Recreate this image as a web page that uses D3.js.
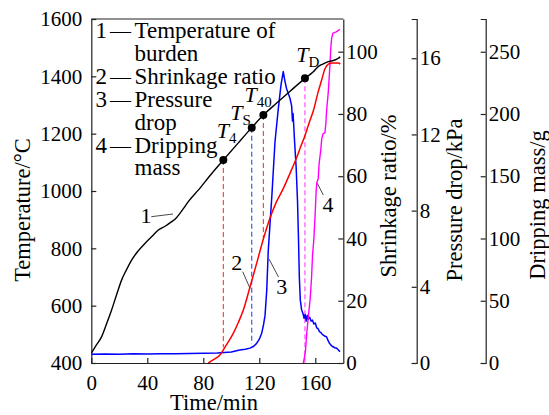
<!DOCTYPE html>
<html>
<head>
<meta charset="utf-8">
<script src="https://cdn.jsdelivr.net/npm/d3@7"></script>
<style>
  body { margin: 0; background: #fff; }
  svg, svg text { font-family: "Liberation Serif", "DejaVu Serif", serif; }
</style>
</head>
<body>
<div id="chart"></div>
<script>
// ---- data (time in min) ----
// 1 - temperature of burden (deg C)
const tempTime = [0, 3, 7.4, 11, 14.5, 18, 21.7, 25, 28.8, 33, 38.3, 43, 47.9, 53, 57.4, 60.5, 63.3, 66, 69.3, 76.4, 85, 94.3, 105, 114.6, 122.9, 132, 142, 152.6, 158.6, 162.1, 165, 169.3, 174, 176.4, 177.8];
const tempVal  = [434, 458, 492, 538, 585, 637, 690, 724, 759, 788, 817, 840, 864, 878, 893, 905, 922, 940, 963, 1003, 1055, 1108, 1168, 1221, 1265, 1305, 1348, 1393, 1416, 1434, 1442, 1451, 1457, 1463, 1468];

// 2 - shrinkage ratio (%)
const shrinkTime = [83.6, 87, 91.9, 96, 101.4, 105, 108.6, 113.4, 118.1, 123, 127.6, 132, 137.1, 142, 146.7, 150, 152.6, 155.5, 158.6, 162, 164.6, 166.9, 169.3, 172, 176.4, 177.8];
const shrinkVal  = [0, 1, 2.6, 5.5, 9.5, 13, 17, 24.5, 32, 40, 46.5, 51.5, 56, 61, 66, 70, 73, 77, 81, 87, 91, 94.5, 96, 96.4, 96.4, 96];

// 3 - pressure drop (kPa)
const pressTime = [0, 10, 20, 30, 40, 50, 60, 70, 80, 90, 100, 106, 110, 113.4, 116, 118.1, 120, 121.7, 123, 124.1, 125.3, 126.4, 129, 131.2, 133.5, 135.5, 137.1, 138.3, 139.5, 141.9, 143.1, 143.7, 144.1, 144.5, 145.3, 146.3, 147.3, 148, 148.6, 149.3, 150.2, 151.2, 152, 152.8, 153.5, 154.3, 155, 156, 157, 158, 159, 160, 161, 162, 163, 164, 165, 166, 167, 168, 169, 170, 171, 172, 173, 174, 175.3, 176.5, 177.6];
const pressVal  = [0.46, 0.47, 0.46, 0.48, 0.47, 0.48, 0.49, 0.5, 0.51, 0.52, 0.58, 0.68, 0.72, 0.78, 0.88, 1.03, 1.25, 1.56, 2.0, 2.5, 3.8, 5.9, 8.8, 11.6, 13.3, 14.6, 15.3, 14.8, 14.4, 13.9, 13.5, 12.7, 13.1, 12.6, 11.5, 10.3, 8.5, 6.5, 4.5, 3.3, 2.8, 2.6, 2.35, 2.55, 2.2, 2.5, 2.3, 2.4, 2.2, 2.25, 2.05, 2.1, 1.85, 1.8, 1.65, 1.6, 1.5, 1.45, 1.4, 1.38, 1.2, 1.05, 0.95, 0.88, 0.84, 0.8, 0.77, 0.68, 0.59];

// 4 - dripping mass (g)
const dripTime = [151.4, 152.2, 153, 153.9, 155, 156.3, 157.3, 158, 159, 160, 160.6, 161.1, 162.1, 162.7, 163.9, 164.6, 165.5, 166.9, 167.5, 168.1, 169.3, 170.5, 171, 171.7, 172.6, 175, 177.6];
const dripVal  = [0, 4, 10, 24, 37, 51, 68, 86, 100, 122, 138, 145, 148, 160, 171, 180, 184, 185, 192, 203, 218, 240, 252, 261, 265, 266, 268];

// characteristic temperatures on curve 1
const markerName = ["4", "S", "40", "D"];
const markerTime = [94.3, 114.6, 122.9, 152.6];
const markerTemp = [1108, 1221, 1265, 1393];
// where each dashed drop line stops
const markerEndAxis = ["shrink", "press", "shrink", "drip"];
const markerEndVal  = [5, 1, 40, 0];

// ticks
const timeTicks   = [0, 40, 80, 120, 160];
const tempTicks   = [400, 600, 800, 1000, 1200, 1400, 1600];
const shrinkTicks = [0, 20, 40, 60, 80, 100];
const pressTicks  = [0, 4, 8, 12, 16];
const dripTicks   = [0, 50, 100, 150, 200, 250];

const legendItems = [
  ["1", ["Temperature of", "burden"]],
  ["2", ["Shrinkage ratio"]],
  ["3", ["Pressure", "drop"]],
  ["4", ["Dripping", "mass"]]
];

// ---- layout ----
const width = 549, height = 415;
const margin = {top: 19, bottom: 52, left: 91.3, right: 205.7};
const plotR = width - margin.right, plotB = height - margin.bottom;
const pressX = 416.7, dripX = 485.7;
const FONT = "Liberation Serif, DejaVu Serif, serif";

const svg = d3.select("#chart").append("svg")
    .attr("width", width)
    .attr("height", height)
    .attr("viewBox", [0, 0, width, height]);

const x = d3.scaleLinear().domain([0, 180]).range([margin.left, plotR]);
const yTemp = d3.scaleLinear().domain([400, 1600]).range([plotB, margin.top]);
// right hand scales: the tick at 100 / 16 / 250 sits below the frame top
const yShrink = d3.scaleLinear().domain([0, 110.5]).range([plotB, margin.top]);
const yPress  = d3.scaleLinear().domain([0, 18.06]).range([plotB, margin.top]);
const yDrip   = d3.scaleLinear().domain([0, 276.3]).range([plotB, margin.top]);
const endScale = {shrink: yShrink, press: yPress, drip: yDrip};
const fmt = d3.format("d");

// axes
function styleAxis(g) {
  g.attr("font-family", FONT).attr("font-size", 21);
  g.selectAll("path, line").attr("stroke", "#222").attr("stroke-width", 1.2);
  g.selectAll("text").attr("fill", "#000");
}

svg.append("g")
    .attr("transform", `translate(${margin.left},0)`)
    .call(d3.axisLeft(yTemp).tickValues(tempTicks).tickFormat(fmt).tickSizeInner(-5).tickSizeOuter(0).tickPadding(9))
    .call(styleAxis);

svg.append("g")
    .attr("transform", `translate(0,${plotB})`)
    .call(d3.axisBottom(x).tickValues(timeTicks).tickFormat(fmt).tickSizeInner(-5).tickSizeOuter(0).tickPadding(12))
    .call(styleAxis);

svg.append("g")
    .attr("transform", `translate(${plotR},0)`)
    .call(d3.axisRight(yShrink).tickValues(shrinkTicks).tickFormat(fmt).tickSizeInner(-5).tickSizeOuter(0).tickPadding(3))
    .call(styleAxis);

svg.append("g")
    .attr("transform", `translate(${pressX},0)`)
    .call(d3.axisRight(yPress).tickValues(pressTicks).tickFormat(fmt).tickSizeInner(-5).tickSizeOuter(-5).tickPadding(3))
    .call(styleAxis);

svg.append("g")
    .attr("transform", `translate(${dripX},0)`)
    .call(d3.axisRight(yDrip).tickValues(dripTicks).tickFormat(fmt).tickSizeInner(-5).tickSizeOuter(-5).tickPadding(3))
    .call(styleAxis);

// top border of the frame
svg.append("line")
    .attr("x1", margin.left).attr("x2", plotR)
    .attr("y1", margin.top).attr("y2", margin.top)
    .attr("stroke", "#222").attr("stroke-width", 1.2);

// axis titles
const titles = [
  {text: "Time/min", x: 214, y: 410, rot: 0},
  {text: "Temperature/°C", x: 30, y: 210, rot: -90},
  {text: "Shrinkage ratio/%", x: 396, y: 196, rot: -90},
  {text: "Pressure drop/kPa", x: 462, y: 200, rot: -90},
  {text: "Dripping mass/g", x: 545, y: 205, rot: -90}
];
svg.append("g")
    .attr("font-family", FONT).attr("font-size", 22.5)
  .selectAll("text")
  .data(titles)
  .join("text")
    .attr("text-anchor", "middle")
    .attr("transform", d => `translate(${d.x},${d.y}) rotate(${d.rot})`)
    .text(d => d.text);

// curves
svg.append("clipPath").attr("id", "plot-clip")
  .append("rect")
    .attr("x", margin.left).attr("y", margin.top)
    .attr("width", plotR - margin.left).attr("height", plotB - margin.top);

const plot = svg.append("g").attr("clip-path", "url(#plot-clip)");

function drawSeries(times, vals, yScale, color, w, curve) {
  const pts = times.map((t, i) => [t, vals[i]]);
  plot.append("path")
      .datum(pts)
      .attr("fill", "none")
      .attr("stroke", color)
      .attr("stroke-width", w)
      .attr("stroke-linejoin", "round")
      .attr("d", d3.line().x(d => x(d[0])).y(d => yScale(d[1])).curve(curve));
}

// dashed drop lines first, below the curves
const dashColor = ["#ff3333", "#3344ff", "#ff3333", "#ff44ff"];
plot.append("g")
  .selectAll("line")
  .data(markerTime)
  .join("line")
    .attr("x1", d => x(d)).attr("x2", d => x(d))
    .attr("y1", (d, i) => yTemp(markerTemp[i]))
    .attr("y2", (d, i) => endScale[markerEndAxis[i]](markerEndVal[i]))
    .attr("stroke", (d, i) => dashColor[i])
    .attr("stroke-width", 1.1)
    .attr("stroke-dasharray", "5,3");

drawSeries(pressTime, pressVal, yPress, "#0000ff", 1.5, d3.curveLinear);
drawSeries(dripTime, dripVal, yDrip, "#ff00ff", 1.4, d3.curveLinear);
drawSeries(shrinkTime, shrinkVal, yShrink, "#ff0000", 1.5, d3.curveMonotoneX);
drawSeries(tempTime, tempVal, yTemp, "#000000", 1.4, d3.curveMonotoneX);

// marker dots
svg.append("g")
  .selectAll("circle")
  .data(markerTime)
  .join("circle")
    .attr("cx", d => x(d))
    .attr("cy", (d, i) => yTemp(markerTemp[i]))
    .attr("r", 4)
    .attr("fill", "#000");

// marker labels: italic T with subscript, offset from the dot
const labelDx = [-6.6, -21.5, -18.8, -8.8];
const labelDy = [-22, -7.3, -12.7, -16.6];
const mLabels = svg.append("g").attr("font-family", FONT)
  .selectAll("text")
  .data(markerTime)
  .join("text")
    .attr("x", (d, i) => x(d) + labelDx[i])
    .attr("y", (d, i) => yTemp(markerTemp[i]) + labelDy[i]);
mLabels.append("tspan")
    .attr("font-size", 22).attr("font-style", "italic")
    .text("T");
mLabels.append("tspan")
    .attr("font-size", 15).attr("dy", 5)
    .text((d, i) => markerName[i]);

// curve number labels with leader lines
const curveLabels = [
  {n: "1", lx: 146, ly: 223, x1: 151.3, y1: 216.7, x2: 173, y2: 214},
  {n: "2", lx: 236.7, ly: 270, x1: 242.7, y1: 271.7, x2: 250, y2: 288.3},
  {n: "3", lx: 281.7, ly: 294, x1: 269, y1: 259, x2: 278.5, y2: 277},
  {n: "4", lx: 328, ly: 211.5, x1: 317.3, y1: 183.3, x2: 323.3, y2: 195}
];
const cl = svg.append("g").attr("font-family", FONT).attr("font-size", 22);
cl.selectAll("line")
  .data(curveLabels)
  .join("line")
    .attr("x1", d => d.x1).attr("y1", d => d.y1)
    .attr("x2", d => d.x2).attr("y2", d => d.y2)
    .attr("stroke", "#333").attr("stroke-width", 0.9);
cl.selectAll("text")
  .data(curveLabels)
  .join("text")
    .attr("x", d => d.lx).attr("y", d => d.ly)
    .attr("text-anchor", "middle")
    .text(d => d.n);

// legend in the upper left
const leg = svg.append("g").attr("font-family", FONT).attr("font-size", 23);
let line = 0;
const lineH = 22.9, firstBase = 38;
legendItems.forEach(([num, rows]) => {
  const yb = firstBase + line * lineH;
  leg.append("text").attr("x", 95.5).attr("y", yb).text(num);
  leg.append("text").attr("x", 110).attr("y", yb).attr("font-size", 21).text("—");
  rows.forEach((r, j) => {
    leg.append("text").attr("x", 134.5).attr("y", yb + j * lineH).text(r);
  });
  line += rows.length;
});
</script>
</body>
</html>
